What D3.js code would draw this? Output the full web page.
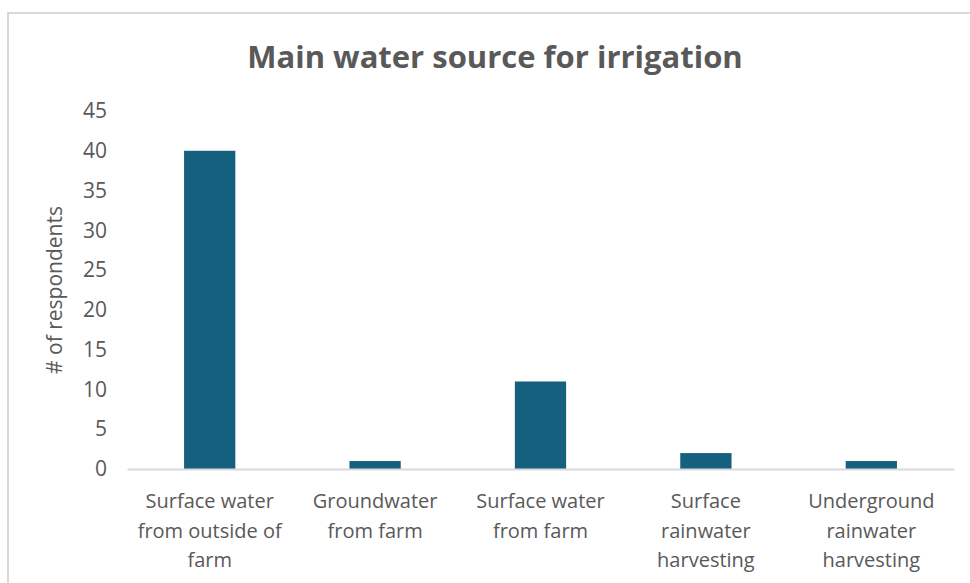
<!DOCTYPE html>
<html><head><meta charset="utf-8">
<script src="https://cdn.jsdelivr.net/npm/d3@7"></script>
<style>
html,body{margin:0;padding:0;background:#fff;}
svg{display:block;}
</style></head>
<body>
<script>
const categories = [
  ["Surface water", "from outside of", "farm"],
  ["Groundwater", "from farm"],
  ["Surface water", "from farm"],
  ["Surface", "rainwater", "harvesting"],
  ["Underground", "rainwater", "harvesting"]
];
const values = [40, 1, 11, 2, 1];
const yTicks = [0, 5, 10, 15, 20, 25, 30, 35, 40, 45];
const title = "Main water source for irrigation";
const yLabel = "# of respondents";

const W = 970, H = 583;
const svg = d3.select("body").append("svg").attr("width", W).attr("height", H);
const font = "'Open Sans', 'Liberation Sans', sans-serif";
const textColor = "#595959";

// chart frame
svg.append("rect").attr("x", 8).attr("y", 13).attr("width", W + 10).attr("height", H + 10)
  .attr("fill", "#fff").attr("stroke", "#d9d9d9").attr("stroke-width", 2);

const plotL = 127, plotR = 954, plotT = 111, plotB = 469;
const x = d3.scaleBand().domain(d3.range(categories.length)).range([plotL, plotR])
  .paddingInner(0.69).paddingOuter(0.345);
const y = d3.scaleLinear().domain([0, 45]).range([plotB, plotT]);

// title
svg.append("text").attr("x", 495).attr("y", 68).attr("text-anchor", "middle")
  .attr("font-family", font).attr("font-weight", "bold").attr("font-size", 31)
  .attr("fill", textColor).text(title);

// y axis
const yAxis = d3.axisLeft(y).tickValues(yTicks).tickSize(0).tickPadding(0);
const gy = svg.append("g").attr("transform", `translate(107,0)`).call(yAxis);
gy.select(".domain").remove();
gy.selectAll("text").attr("font-family", font).attr("font-size", 21).attr("fill", textColor);

// bars
svg.append("g").selectAll("rect").data(values).join("rect")
  .attr("x", (d, i) => x(i)).attr("width", x.bandwidth())
  .attr("y", d => y(d)).attr("height", d => y(0) - y(d))
  .attr("fill", "#155f7f");

// x baseline
const xAxis = d3.axisBottom(x).tickSize(0).tickFormat(() => "");
const gx = svg.append("g").attr("transform", `translate(0,${plotB})`).call(xAxis);
gx.select(".domain").attr("stroke", "#d9d9d9").attr("stroke-width", 2.2);

// category labels
const lab = svg.append("g").selectAll("text").data(categories).join("text")
  .attr("text-anchor", "middle").attr("font-family", font).attr("font-size", 20)
  .attr("fill", textColor)
  .attr("transform", (d, i) => `translate(${x(i) + x.bandwidth() / 2},508)`);
lab.selectAll("tspan").data(d => d).join("tspan")
  .attr("x", 0).attr("y", (d, j) => j * 29.5).text(d => d);

// y label
svg.append("text").attr("transform", "translate(62,290) rotate(-90)")
  .attr("text-anchor", "middle").attr("font-family", font).attr("font-size", 21)
  .attr("fill", textColor).text(yLabel);
</script>
</body></html>
